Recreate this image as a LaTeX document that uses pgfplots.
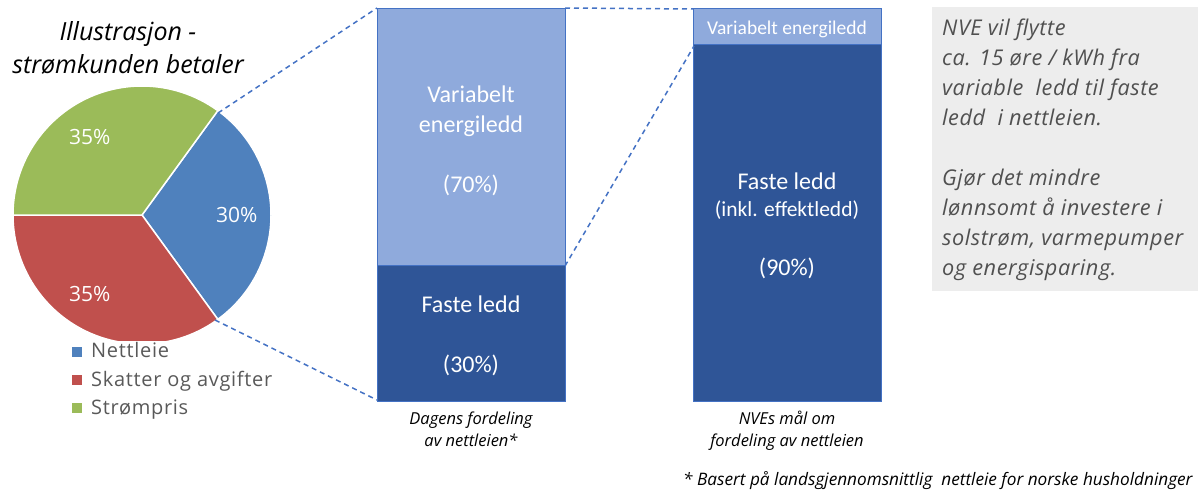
\documentclass[border=0pt]{standalone}
\usepackage{pgfplots}
\pgfplotsset{compat=1.18}
\usepackage{fontspec}
\setmainfont{Carlito}
\newfontfamily\osans{Open Sans}
\newfontfamily\osbox{Open Sans}[LetterSpace=2.5]
\newfontfamily\osleg{Open Sans}[LetterSpace=3.5]
\definecolor{pieblue}{HTML}{4F81BD}
\definecolor{piered}{HTML}{C0504D}
\definecolor{piegreen}{HTML}{9BBB59}
\definecolor{bardark}{HTML}{2F5597}
\definecolor{barlight}{HTML}{8FAADC}
\definecolor{barline}{HTML}{4472C4}
\definecolor{legtext}{HTML}{595959}
\definecolor{boxtext}{HTML}{505050}
\definecolor{boxgray}{HTML}{EDEDED}
\newcommand\fs[1]{\fontsize{#1bp}{#1bp}\selectfont}
\begin{document}
\begin{tikzpicture}
\useasboundingbox (0,0) rectangle (1198bp,-490bp);
% ---------------- pie (Nettleie 30, Skatter og avgifter 35, Strompris 35)
\begin{axis}[at={(13bp,-340bp)}, anchor=south west, scale only axis,
  width=258bp, height=254bp, xmin=-129, xmax=129, ymin=-125, ymax=129,
  hide axis, clip=true]
\fill[pieblue, draw=white, line width=1.5bp] (axis cs:0,0) -- ++(54:129bp)
  arc[start angle=54, end angle={54-3.6*30}, radius=129bp] -- cycle;
\fill[piered, draw=white, line width=1.5bp] (axis cs:0,0) -- ++({54-3.6*30}:129bp)
  arc[start angle={54-3.6*30}, end angle={54-3.6*65}, radius=129bp] -- cycle;
\fill[piegreen, draw=white, line width=1.5bp] (axis cs:0,0) -- ++({54-3.6*65}:129bp)
  arc[start angle={54-3.6*65}, end angle={54-3.6*100}, radius=129bp] -- cycle;
\end{axis}
% ---------------- bars
\begin{axis}[at={(377bp,-401bp)}, anchor=south west, scale only axis,
  width=504bp, height=393bp, xmin=377, xmax=881, ymin=0, ymax=100,
  hide axis, ybar stacked, bar width=188bp, clip=false]
\addplot[fill=bardark, draw=barline, line width=1bp] coordinates {(471,34.4) (787.5,90.6)};
\addplot[fill=barlight, draw=barline, line width=1bp] coordinates {(471,65.6) (787.5,9.4)};
\end{axis}
\begin{scope}[x=1bp, y=-1bp]
% title
\node[anchor=base, font=\osans\fs{25}\itshape] at (128,40) {Illustrasjon -};
\node[anchor=base, font=\osans\fs{25}\itshape] at (128,73) {strømkunden betaler};
% pie labels
\node[anchor=base west, white, font=\osans\fs{21}, inner sep=0] at (69,144) {35\%};
\node[anchor=base west, white, font=\osans\fs{21}, inner sep=0] at (216,222) {30\%};
\node[anchor=base west, white, font=\osans\fs{21}, inner sep=0] at (69,301) {35\%};
% legend
\fill[pieblue] (72,347) rectangle (82,357);
\fill[piered] (72,375) rectangle (82,385);
\fill[piegreen] (72,403) rectangle (82,413);
\node[anchor=base west, legtext, font=\osleg\fs{20}, inner sep=0] at (91,357) {Nettleie};
\node[anchor=base west, legtext, font=\osleg\fs{20}, inner sep=0] at (91,386) {Skatter og avgifter};
\node[anchor=base west, legtext, font=\osleg\fs{20}, inner sep=0] at (91,414) {Strømpris};
% dashed connectors
\draw[barline, line width=1.5bp, dash pattern=on 5bp off 4bp] (218,113) -- (377,8);
\draw[barline, line width=1.5bp, dash pattern=on 5bp off 4bp] (215,320) -- (377,400);
\draw[barline, line width=1.5bp, dash pattern=on 5bp off 4bp] (565,8) -- (694,9);
\draw[barline, line width=1.5bp, dash pattern=on 5bp off 4bp] (565,266) -- (694,46);
% bar 1 texts
\node[anchor=base, white, font=\fs{24}] at (471,102) {Variabelt};
\node[anchor=base, white, font=\fs{24}] at (471,132) {energiledd};
\node[anchor=base, white, font=\fs{24}] at (471,192) {(70\%)};
\node[anchor=base, white, font=\fs{24}] at (471,312) {Faste ledd};
\node[anchor=base, white, font=\fs{24}] at (471,372) {(30\%)};
% bar 2 texts
\node[anchor=base, white, font=\fs{19.5}] at (787,34) {Variabelt energiledd};
\node[anchor=base, white, font=\fs{24}] at (787,189) {Faste ledd};
\node[anchor=base, white, font=\fs{21.5}] at (787,216) {(inkl. effektledd)};
\node[anchor=base, white, font=\fs{24}] at (787,275) {(90\%)};
% captions
\node[anchor=base, font=\osans\fs{16.5}\itshape] at (471,424) {Dagens fordeling};
\node[anchor=base, font=\osans\fs{16.5}\itshape] at (471,446) {av nettleien*};
\node[anchor=base, font=\osans\fs{16.5}\itshape] at (787,424) {NVEs mål om};
\node[anchor=base, font=\osans\fs{16.5}\itshape] at (787,446) {fordeling av nettleien};
\node[anchor=base west, font=\osans\fs{17.2}\itshape, inner sep=0] at (683,485) {* Basert på landsgjennomsnittlig\ \ nettleie for norske husholdninger};
% grey box
\fill[boxgray] (932,7) rectangle (1200,291);
\node[anchor=base west, boxtext, font=\osbox\fs{21.7}\itshape, inner sep=0] at (942,35) {NVE vil flytte};
\node[anchor=base west, boxtext, font=\osbox\fs{21.7}\itshape, inner sep=0] at (942,65) {ca. 15 øre / kWh fra};
\node[anchor=base west, boxtext, font=\osbox\fs{21.7}\itshape, inner sep=0] at (942,95) {variable\ \ ledd til faste};
\node[anchor=base west, boxtext, font=\osbox\fs{21.7}\itshape, inner sep=0] at (942,125) {ledd\ \ i nettleien.};
\node[anchor=base west, boxtext, font=\osbox\fs{21.7}\itshape, inner sep=0] at (942,185) {Gjør det mindre};
\node[anchor=base west, boxtext, font=\osbox\fs{21.7}\itshape, inner sep=0] at (942,215) {lønnsomt å investere i};
\node[anchor=base west, boxtext, font=\osbox\fs{21.7}\itshape, inner sep=0] at (942,245) {solstrøm, varmepumper};
\node[anchor=base west, boxtext, font=\osbox\fs{21.7}\itshape, inner sep=0] at (942,275) {og energisparing.};
\end{scope}
\end{tikzpicture}
\end{document}
